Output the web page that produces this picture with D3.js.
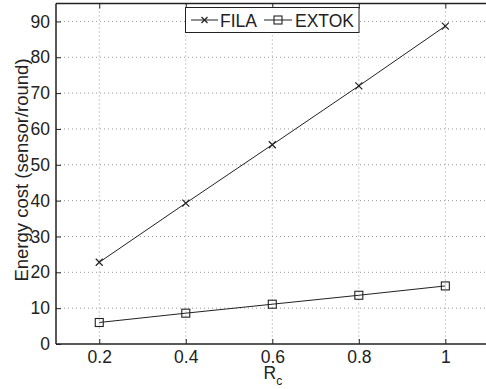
<!DOCTYPE html>
<html><head><meta charset="utf-8">
<script src="https://cdn.jsdelivr.net/npm/d3@7"></script>
<style>body{margin:0;background:#fff}svg{display:block}text{font-family:"Liberation Sans",Arial,sans-serif;fill:#222}</style>
</head><body><svg id="c" width="486" height="389"></svg>
<script>
const xValues = [0.2, 0.4, 0.6, 0.8, 1.0];
const filaValues = [22.8, 39.3, 55.6, 72.0, 88.7];
const extokValues = [6.0, 8.6, 11.1, 13.6, 16.2];
const xTicks = [0.2, 0.4, 0.6, 0.8, 1];
const yTicks = [0, 10, 20, 30, 40, 50, 60, 70, 80, 90];

const svg = d3.select("#c");
const L = 56, R = 488.6, T = 3.5, B = 344;
const x = d3.scaleLinear().domain([0.1, 1.1]).range([L, R]);
const y = d3.scaleLinear().domain([0, 95]).range([B, T]);

// grid
const g = svg.append("g");
g.selectAll(".gx").data(xTicks).enter().append("line")
  .attr("x1", d => x(d)).attr("x2", d => x(d)).attr("y1", T).attr("y2", B)
  .attr("stroke", "#999").attr("stroke-width", 1).attr("stroke-dasharray", "1,3");
g.selectAll(".gy").data(yTicks.filter(d => d > 0)).enter().append("line")
  .attr("y1", d => y(d)).attr("y2", d => y(d)).attr("x1", L).attr("x2", R)
  .attr("stroke", "#999").attr("stroke-width", 1).attr("stroke-dasharray", "1,3");

// axes
const fmt = d => d === 1 ? "1" : (d === 0 ? "0" : String(d));
const xAxis = svg.append("g").attr("transform", `translate(0,${B})`)
  .call(d3.axisBottom(x).tickValues(xTicks).tickSize(-5).tickPadding(7).tickFormat(fmt));
const xAxisTop = svg.append("g").attr("transform", `translate(0,${T})`)
  .call(d3.axisTop(x).tickValues(xTicks).tickSize(-5).tickFormat(""));
const yAxis = svg.append("g").attr("transform", `translate(${L},0)`)
  .call(d3.axisLeft(y).tickValues(yTicks).tickSize(-5).tickPadding(6).tickFormat(d3.format("d")));
[xAxis, xAxisTop, yAxis].forEach(a => {
  a.select(".domain").attr("stroke", "#222").attr("stroke-width", 1.5);
  a.selectAll(".tick line").attr("stroke", "#222").attr("stroke-width", 1);
  a.selectAll(".tick text").attr("font-size", 17.5).attr("fill", "#222")
    .attr("font-family", '"Liberation Sans",Arial,sans-serif');
});
xAxisTop.select(".domain").attr("d", `M${L},${0}H${R}`);
yAxis.select(".domain").attr("d", `M0,${B}V${T}`);
xAxis.select(".domain").attr("d", `M${L},0H${R}`);

// lines
const line = d3.line().x((d, i) => x(xValues[i])).y(d => y(d));
svg.append("path").datum(filaValues).attr("d", line).attr("fill", "none").attr("stroke", "#222").attr("stroke-width", 1);
svg.append("path").datum(extokValues).attr("d", line).attr("fill", "none").attr("stroke", "#222").attr("stroke-width", 1);

function cross(sel, cx, cy, s) {
  sel.append("path").attr("d", `M${cx-s},${cy-s}L${cx+s},${cy+s}M${cx-s},${cy+s}L${cx+s},${cy-s}`)
    .attr("stroke", "#222").attr("stroke-width", 1.2).attr("fill", "none");
}
function square(sel, cx, cy, s) {
  sel.append("rect").attr("x", cx-s).attr("y", cy-s).attr("width", 2*s).attr("height", 2*s)
    .attr("stroke", "#222").attr("stroke-width", 1.1).attr("fill", "none");
}
filaValues.forEach((v, i) => cross(svg, x(xValues[i]), y(v), 3.5));
extokValues.forEach((v, i) => square(svg, x(xValues[i]), y(v), 4));

// legend
const lg = svg.append("g");
lg.append("rect").attr("x", 185.5).attr("y", 7.5).attr("width", 173.5).attr("height", 25)
  .attr("fill", "#fff").attr("stroke", "#222").attr("stroke-width", 1);
lg.append("line").attr("x1", 191).attr("x2", 218).attr("y1", 20).attr("y2", 20).attr("stroke", "#222");
cross(lg, 204.5, 20, 3);
lg.append("text").attr("x", 220).attr("y", 26.5).attr("font-size", 17.5).text("FILA");
lg.append("line").attr("x1", 264).attr("x2", 292).attr("y1", 20).attr("y2", 20).attr("stroke", "#222");
square(lg, 278, 20, 4);
lg.append("text").attr("x", 295).attr("y", 26.5).attr("font-size", 17.5).text("EXTOK");

// labels
svg.append("text").attr("transform", "translate(27.5,170) rotate(-90)").attr("text-anchor", "middle")
  .attr("font-size", 18.5).text("Energy cost (sensor/round)");
const xl = svg.append("text").attr("x", 263.5).attr("y", 378.5).attr("font-size", 17.5);
xl.append("tspan").text("R");
xl.append("tspan").attr("dy", 6.5).attr("font-size", 12).text("c");
</script></body></html>
